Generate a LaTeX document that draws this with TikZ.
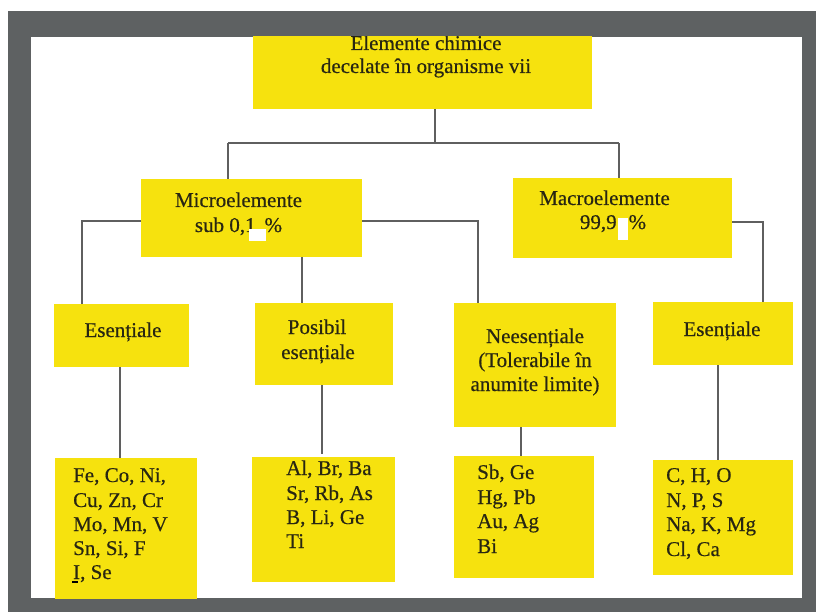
\documentclass[tikz,border=0pt]{standalone}
\usepackage{fontspec}
\setmainfont{Liberation Serif}[UprightFeatures={FakeBold=0.45}]
\definecolor{boxyellow}{RGB}{246,226,14}
\definecolor{framegray}{RGB}{94,97,98}
\definecolor{linegray}{RGB}{95,95,95}
\definecolor{textc}{RGB}{40,38,18}
\begin{document}
\begin{tikzpicture}[x=1pt,y=-1pt,
  ybox/.style={fill=boxyellow,draw=none,inner sep=0pt,outer sep=0pt},
  conn/.style={draw=linegray,line width=1.4pt},
  txt/.style={font=\fontsize{21}{24}\selectfont,text=textc,inner sep=0pt,anchor=base},
  ltxt/.style={txt,anchor=base west}]
\useasboundingbox (0,0) rectangle (816,612);
\fill[white] (0,0) rectangle (816,612);
\fill[framegray] (8,11) rectangle (816,612);
\fill[white] (31,37) rectangle (802,598);
\begin{scope}
\clip (31,37) rectangle (802,598);
% boxes
\node[ybox,minimum width=339,minimum height=79] (top) at (422.5,69.5) {};
\node[ybox,minimum width=221,minimum height=78] (micro) at (251.5,218) {};
\node[ybox,minimum width=219,minimum height=80] (macro) at (622.5,218) {};
\node[ybox,minimum width=135,minimum height=63] (es1) at (121.5,335.5) {};
\node[ybox,minimum width=138,minimum height=82] (pos) at (324,344) {};
\node[ybox,minimum width=162,minimum height=124] (nees) at (535,365) {};
\node[ybox,minimum width=140,minimum height=63] (es2) at (723,333.5) {};
\node[ybox,minimum width=142,minimum height=144] (l1) at (126,530) {};
\node[ybox,minimum width=143,minimum height=125] (l2) at (323.5,519.5) {};
\node[ybox,minimum width=140,minimum height=122] (l3) at (524,517) {};
\node[ybox,minimum width=140,minimum height=115] (l4) at (723,517.5) {};
% connectors
\coordinate (j) at (435,143);
\coordinate (jl) at (228,143);
\coordinate (jr) at (619,143);
\draw[conn] (top.south -| j) -- (j);
\draw[conn] (jl) -- (jr);
\draw[conn] (jl) -- (jl |- micro.north);
\draw[conn] (jr) -- (jr |- macro.north);
\coordinate (ml) at (82,221);
\draw[conn] (micro.west |- ml) -- (ml) -- (ml |- es1.north);
\coordinate (mr) at (478,221);
\draw[conn] (micro.east |- mr) -- (mr) -- (mr |- nees.north);
\coordinate (mm) at (302,0);
\draw[conn] (mm |- micro.south) -- (mm |- pos.north);
\coordinate (mar) at (763,222);
\draw[conn] (macro.east |- mar) -- (mar) -- (mar |- es2.north);
\coordinate (e1) at (120,0);
\draw[conn] (e1 |- es1.south) -- (e1 |- l1.north);
\coordinate (p1) at (322,0);
\draw[conn] (p1 |- pos.south) -- ([yshift=3pt]p1 |- l2.north);
\coordinate (n1) at (521,0);
\draw[conn] (n1 |- nees.south) -- (n1 |- l3.north);
\coordinate (e2) at (718,0);
\draw[conn] (e2 |- es2.south) -- (e2 |- l4.north);
% texts
\node[txt] (t1) at (426,50) {Elemente chimice};
\node[txt] (t2) at (426,73) {decelate în organisme vii};
\node[txt] (mi1) at (238.5,207) {Microelemente};
\node[txt] (mi2) at (238.5,232) {sub 0,1\kern9pt\%};
\node[txt] (ma1) at (604.5,205) {Macroelemente};
\node[txt] (ma2) at (613,229) {99,9\kern12pt\%};
\node[txt] (es1t) at (123,337) {Esențiale};
\node[txt] (pos1) at (317,334) {Posibil};
\node[txt] (pos2) at (318,359) {esențiale};
\node[txt] (ne1) at (535,343) {Neesențiale};
\node[txt] (ne2) at (535,367) {(Tolerabile în};
\node[txt] (ne3) at (535,391) {anumite limite)};
\node[txt] (es2t) at (722,336) {Esențiale};
\node[ltxt] (a1) at (73,482) {Fe, Co, Ni,};
\node[ltxt] (a2) at (73,507) {Cu, Zn, Cr};
\node[ltxt] (a3) at (73,531) {Mo, Mn, V};
\node[ltxt] (a4) at (73,555) {Sn, Si, F};
\node[ltxt] (a5) at (73,579) {I, Se};
\node[ltxt] (b1) at (286,475) {Al, Br, Ba};
\node[ltxt] (b2) at (286,500) {Sr, Rb, As};
\node[ltxt] (b3) at (286,524) {B, Li, Ge};
\node[ltxt] (b4) at (286,548) {Ti};
\node[ltxt] (c1) at (477,479) {Sb, Ge};
\node[ltxt] (c2) at (477,504) {Hg, Pb};
\node[ltxt] (c3) at (477,528) {Au, Ag};
\node[ltxt] (c4) at (477,553) {Bi};
\node[ltxt] (d1) at (666,482) {C, H, O};
\node[ltxt] (d2) at (666,507) {N, P, S};
\node[ltxt] (d3) at (666,531) {Na, K, Mg};
\node[ltxt] (d4) at (666,556) {Cl, Ca};
% cursor artifacts
\fill[white] (249,229) rectangle (266,241);
\fill[white] (618,218) rectangle (628,240);
\fill[black] (72,580.5) rectangle (78,582.5);
\end{scope}
\end{tikzpicture}
\end{document}
